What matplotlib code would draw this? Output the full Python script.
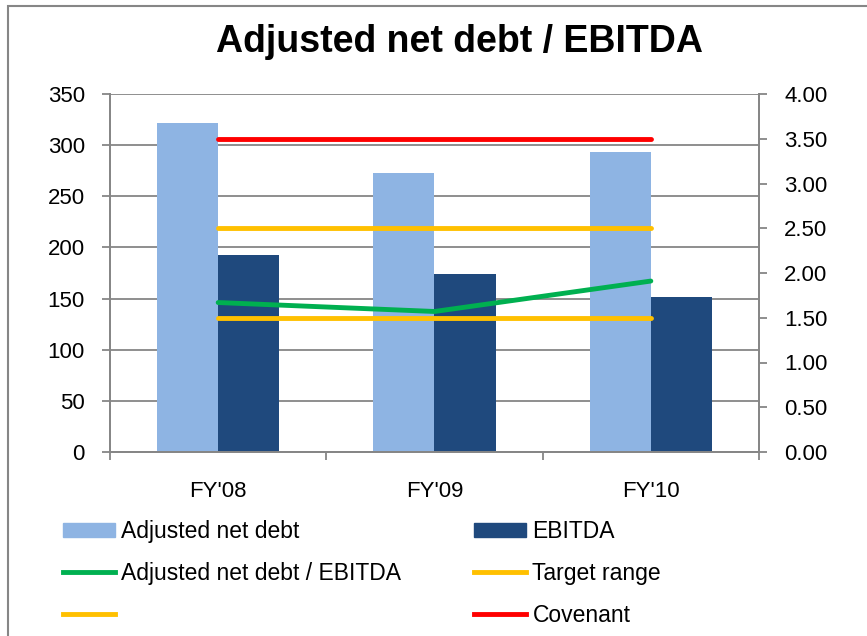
import numpy as np
import matplotlib.pyplot as plt
from matplotlib.patches import Rectangle
from matplotlib.lines import Line2D

plt.rcParams['font.family'] = ['Liberation Sans', 'DejaVu Sans']

# Chart data
years = ["FY'08", "FY'09", "FY'10"]
adj_net_debt = [322, 273, 293]
ebitda = [193, 174, 152]
ratio = [1.67, 1.57, 1.91]
target_low = [1.5, 1.5, 1.5]
target_high = [2.5, 2.5, 2.5]
covenant = [3.5, 3.5, 3.5]

c_light = "#8EB4E3"
c_dark = "#1F497D"
c_green = "#00B050"
c_yellow = "#FFC000"
c_red = "#FF0000"
c_axis = "#868686"

W, H = 867, 636
fig = plt.figure(figsize=(W / 100, H / 100), dpi=100)

# outer chart border (cut off at the right and bottom edge)
fig.add_artist(Rectangle((8 / W, -0.05), 1.2, 1 - 6 / H + 0.05,
                         transform=fig.transFigure, fill=False,
                         edgecolor=c_axis, linewidth=1.5))

ax = fig.add_axes([110 / W, 1 - 452 / H, (759 - 110) / W, (452 - 94) / H])
ax2 = ax.twinx()

x = np.arange(len(years))
bw = 0.283
ax.bar(x - bw, adj_net_debt, width=bw, align='edge', color=c_light, zorder=2)
ax.bar(x, ebitda, width=bw, align='edge', color=c_dark, zorder=2)

ax.set_xlim(-0.5, 2.5)
ax.set_ylim(0, 350)
ax.set_yticks(np.arange(0, 351, 50))
ax.yaxis.grid(True, color=c_axis, linewidth=1.3, zorder=0)
ax.set_axisbelow(True)
ax.set_xticks(x)
ax.set_xticklabels(years)
ax.set_xticks(np.arange(-0.5, 2.6, 1), minor=True)
ax.tick_params(axis='x', which='major', length=0, pad=21, labelsize=16)
ax.tick_params(axis='x', which='minor', length=6, width=1.3, color=c_axis,
               direction='out')
ax.tick_params(axis='y', length=6, width=1.3, color=c_axis, labelsize=16, pad=12)

ax2.plot(x, ratio, color=c_green, linewidth=3.5, solid_capstyle='round', zorder=3)
ax2.plot(x, target_low, color=c_yellow, linewidth=3.5, solid_capstyle='round')
ax2.plot(x, target_high, color=c_yellow, linewidth=3.5, solid_capstyle='round')
ax2.plot(x, covenant, color=c_red, linewidth=3.5, solid_capstyle='round')
ax2.set_ylim(0, 4)
ax2.set_yticks(np.arange(0, 4.01, 0.5))
ax2.set_yticklabels(["%.2f" % v for v in np.arange(0, 4.01, 0.5)])
ax2.tick_params(axis='y', length=6, width=1.3, color=c_axis, labelsize=16, pad=12)

for a in (ax, ax2):
    a.spines['top'].set_visible(False)
    for s in ('left', 'right', 'bottom'):
        a.spines[s].set_color(c_axis)
        a.spines[s].set_linewidth(1.3)

fig.text(460 / W, 1 - 42 / H, "Adjusted net debt / EBITDA", ha='center',
         va='center', fontsize=27, fontweight='bold')

# legend, two columns
h_light = Rectangle((0, 0), 1, 1, color=c_light)
h_dark = Rectangle((0, 0), 1, 1, color=c_dark)
h_green = Line2D([], [], color=c_green, linewidth=3.5)
h_yel = Line2D([], [], color=c_yellow, linewidth=3.5)
h_red = Line2D([], [], color=c_red, linewidth=3.5)

leg_kw = dict(frameon=False, fontsize=16.5, handlelength=2.25, handleheight=0.55,
              handletextpad=0.3, labelspacing=0.82, borderaxespad=0,
              borderpad=0, loc='upper left')
fig.legend([h_light, h_green, h_yel],
           ["Adjusted net debt", "Adjusted net debt / EBITDA", ""],
           bbox_to_anchor=(63 / W, 1 - 520 / H), **leg_kw)
fig.legend([h_dark, h_yel, h_red],
           ["EBITDA", "Target range", "Covenant"],
           bbox_to_anchor=(474 / W, 1 - 520 / H), **leg_kw)

plt.savefig("out.png", dpi=100)
